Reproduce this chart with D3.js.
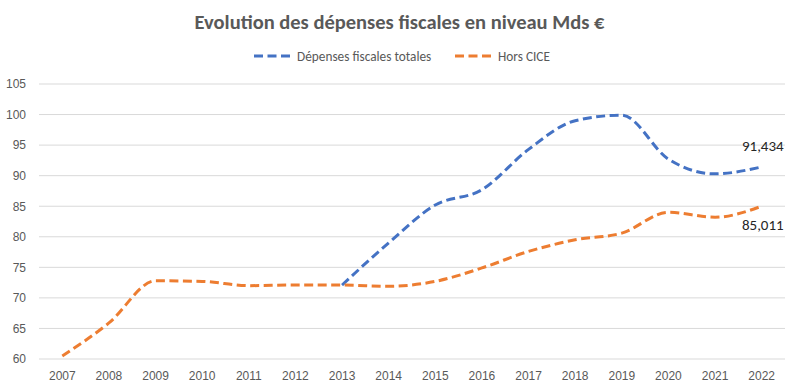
<!DOCTYPE html>
<html>
<head>
<meta charset="utf-8">
<script src="https://cdn.jsdelivr.net/npm/d3@7"></script>
<style>
	body { margin: 0; background: #fff; }
	svg { font-family: Carlito, Calibri, Lato, sans-serif; }
</style>
</head>
<body>
<svg class="viz" width="799" height="392"></svg>
<script>
// *** Data ***
const years = ["2007", "2008", "2009", "2010", "2011", "2012", "2013", "2014",
	"2015", "2016", "2017", "2018", "2019", "2020", "2021", "2022"];
const totales = [null, null, null, null, null, null, 72.1, 79.0,
	85.2, 87.7, 94.3, 99.0, 99.9, 92.7, 90.3, 91.434];
const horsCice = [60.5, 65.9, 72.8, 72.7, 72.0, 72.1, 72.1, 71.9,
	72.7, 74.9, 77.6, 79.5, 80.6, 84.0, 83.2, 85.011];
const yTicks = [60, 65, 70, 75, 80, 85, 90, 95, 100, 105];
const seriesNames = ["Dépenses fiscales totales", "Hors CICE"];
const colors = ["#4472C4", "#ED7D31"];

function render() {
	let grph = d3.select(".viz");
	const wdth = 799, hght = 392;
	const left = 39, right = 785, top = 84, bttm = 359;

	let x = d3.scaleBand().domain(years).range([left, right]);
	let y = d3.scaleLinear().domain([60, 105]).range([bttm, top]);

	// title
	grph.append("text")
		.attr("x", wdth / 2).attr("y", 29)
		.attr("text-anchor", "middle")
		.attr("font-size", 20.5).attr("font-weight", "bold")
		.attr("fill", "#595959")
		.text("Evolution des dépenses fiscales en niveau Mds €");

	// gridlines
	grph.append("g")
		.selectAll("line").data(yTicks).join("line")
		.attr("x1", left).attr("x2", right)
		.attr("y1", d => y(d)).attr("y2", d => y(d))
		.attr("stroke", "#d9d9d9").attr("stroke-width", 1);

	// y axis labels
	let ay = grph.append("g").attr("transform", "translate(" + (left - 13) + ",0)")
		.call(d3.axisLeft(y).tickValues(yTicks).tickSize(0).tickPadding(0));
	ay.select(".domain").remove();
	ay.selectAll("text").attr("font-size", 12).attr("fill", "#595959")
		.attr("font-family", null);

	// x axis labels
	let ax = grph.append("g").attr("transform", "translate(0," + bttm + ")")
		.call(d3.axisBottom(x).tickSize(0).tickPadding(12));
	ax.select(".domain").remove();
	ax.selectAll("text").attr("font-size", 12).attr("fill", "#595959")
		.attr("font-family", null);

	let line = d3.line()
		.defined(d => d.v != null)
		.x(d => x(d.year) + x.bandwidth() / 2)
		.y(d => y(d.v))
		.curve(d3.curveMonotoneX);

	const series = [totales, horsCice];
	series.forEach((vals, i) => {
		let pts = years.map((yr, j) => ({ year: yr, v: vals[j] }));
		grph.append("path")
			.attr("d", line(pts))
			.attr("fill", "none")
			.attr("stroke", colors[i])
			.attr("stroke-width", 3)
			.attr("stroke-dasharray", "9,4.5");
	});

	// end labels
	const last = years.length - 1;
	const fmt = v => d3.format(".3f")(v).replace(".", ",");
	grph.append("text")
		.attr("x", x(years[last]) + x.bandwidth() / 2 + 22)
		.attr("y", y(totales[last]) - 16)
		.attr("text-anchor", "end").attr("font-size", 15).attr("fill", "#262626")
		.text(fmt(totales[last]));
	grph.append("text")
		.attr("x", x(years[last]) + x.bandwidth() / 2 + 22)
		.attr("y", y(horsCice[last]) + 24)
		.attr("text-anchor", "end").attr("font-size", 15).attr("fill", "#262626")
		.text(fmt(horsCice[last]));

	// legend
	const lgX = [254, 455];
	seriesNames.forEach((nm, i) => {
		let g = grph.append("g").attr("transform", "translate(" + lgX[i] + ",56)");
		g.append("line").attr("x1", 0).attr("x2", 36)
			.attr("stroke", colors[i]).attr("stroke-width", 3)
			.attr("stroke-dasharray", "9,4.5");
		g.append("text").attr("x", 43).attr("y", 4.5)
			.attr("font-size", 13.3).attr("fill", "#595959")
			.text(nm);
	});
}

render();
</script>
</body>
</html>
